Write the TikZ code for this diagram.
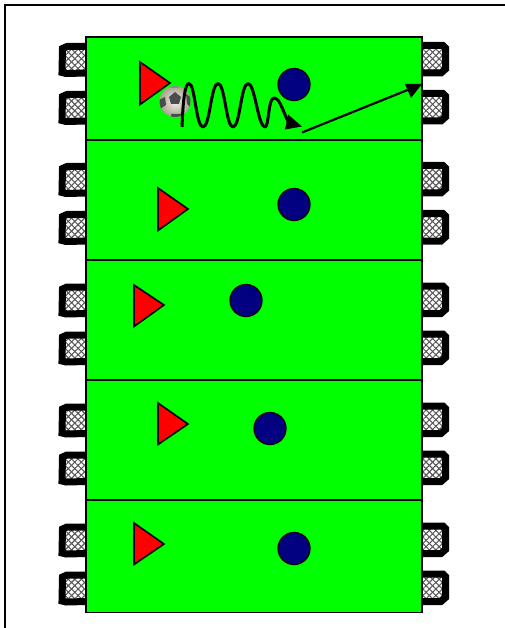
\documentclass[tikz,border=0pt]{standalone}
\usetikzlibrary{patterns.meta,arrows.meta}
\definecolor{balllight}{RGB}{245,243,232}
\definecolor{ballshade}{RGB}{165,162,145}
\tikzset{
 x=1pt,y=-1pt,
 netfill/.style={pattern={Lines[angle=45,distance=4.6pt,line width=1.1pt]},pattern color=black!65,draw=none},
 netfillb/.style={pattern={Lines[angle=-45,distance=4.6pt,line width=1.1pt]},pattern color=black!65,draw=none},
 frame/.style={line width=2pt,line cap=square,black},
 goalpost/.style={line width=7pt,black,line join=miter},
 fieldbox/.style={fill=green,draw=black,line width=1.6pt},
 divider/.style={line width=1.5pt,black},
 attacker/.style={fill=red,draw=black,line width=1.6pt,line join=miter},
 defender/.style={fill={rgb,255:red,0;green,0;blue,128},draw=black,line width=1.3pt},
 run/.style={line width=3pt,black,line join=round},
 pass/.style={line width=2.2pt,black},
 arrowtip/.style={fill=black,draw=none},
 lgoal/.pic={
  \fill[white] (64,50) rectangle (87,71);
  \fill[netfill] (64,50) rectangle (87,71);
  \fill[netfillb] (64,50) rectangle (87,71);
  \draw[goalpost] (87,46.5) -- (67,46.5) -- (62.5,48.5) -- (62,72.5) -- (66,73.5) -- (87,73);
 },
 rgoal/.pic={
  \fill[white] (421,49) rectangle (444,70);
  \fill[netfill] (421,49) rectangle (444,70);
  \fill[netfillb] (421,49) rectangle (444,70);
  \draw[goalpost] (421,45.5) -- (443,45.5) -- (445.5,48) -- (445.5,69) -- (441,73) -- (421,73);
 }
}
\begin{document}
\begin{tikzpicture}
\useasboundingbox (0,0) rectangle (505,628);
\draw[frame] (5,628) -- (5,5) -- (505,5);
\foreach \dy in {0,120,240.5,360.5,480.5}{
 \pic at (0,\dy) {lgoal};
 \pic at (0,\dy+48) {lgoal};
 \pic at (0,\dy) {rgoal};
 \pic at (0,\dy+48) {rgoal};
}
\draw[fieldbox] (86,37) rectangle (422,612.5);
\foreach \yy in {140,260,380,500}{\draw[divider] (86,\yy) -- (422,\yy);}
\draw[attacker] (140,62) -- (140,104.5) -- (170,83) -- cycle;
\draw[attacker] (158,188) -- (158,230.5) -- (188,209) -- cycle;
\draw[attacker] (134,285) -- (134,326.5) -- (164,305) -- cycle;
\draw[attacker] (158,403) -- (158,444.5) -- (188,424) -- cycle;
\draw[attacker] (134,523) -- (134,564.5) -- (164,544) -- cycle;
\foreach \cx/\cy in {294/84.5,294/204.5,246/300.5,270/428.5,294/548.5}{
 \draw[defender] (\cx,\cy) circle[radius=16];
}
% ball
\shade[inner color=balllight,outer color=ballshade] (175,101.5) circle[radius=15.5];
\begin{scope}
\clip (175,101.5) circle[radius=15.5];
\fill[black!70] (175,92) -- (181,97) -- (179,104) -- (171,104) -- (169,97) -- cycle;
\fill[black!70] (159,100) -- (165,97) -- (166,105) -- (160,109) -- cycle;
\fill[black!70] (186,94) -- (192,98) -- (191,108) -- (187,104) -- cycle;
\fill[black!70] (171,114) -- (181,114) -- (180,120) -- (172,120) -- cycle;
\fill[black!45] (168,85) -- (182,85) -- (178,88) -- (171,88) -- cycle;
\end{scope}
% dribble
\coordinate (runstart) at (182,127);
\coordinate (runend) at (288,121);
\coordinate (runtip) at (302,126.5);
\draw[run] (runstart)
 .. controls (183,100) and (185,83.5) .. (189,83.5)
 .. controls (195,83.5) and (196,127) .. (203,127)
 .. controls (210,127) and (211,83.5) .. (218,83.5)
 .. controls (225,83.5) and (226,127) .. (233,127)
 .. controls (240,127) and (241,83.5) .. (248,83.5)
 .. controls (255,83.5) and (258,127) .. (265,127)
 .. controls (269,127) and (268,98) .. (274,98)
 .. controls (280,98) and (283,112) .. (runend);
\fill[arrowtip] (runtip) -- (288,114.5) -- (285,129.5) -- cycle;
% pass
\coordinate (passstart) at (302,132.5);
\coordinate (passtip) at (422,84);
\coordinate (passend) at (410,89);
\draw[pass] (passstart) -- (passend);
\fill[arrowtip] (passtip) -- (405,84) -- (411,98) -- cycle;
\end{tikzpicture}
\end{document}
